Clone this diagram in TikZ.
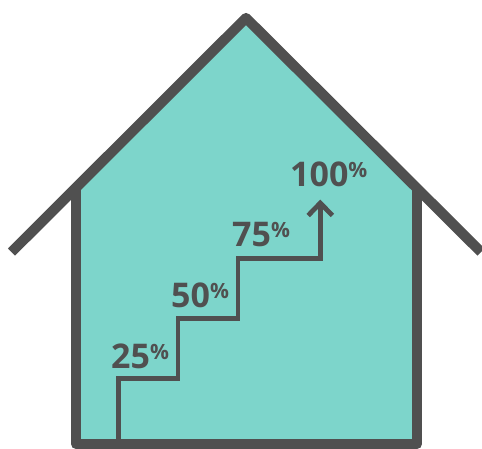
\documentclass[tikz,border=0pt]{standalone}
\usepackage{fontspec}
\setmainfont{Open Sans}
\usepackage{tikz}
\usetikzlibrary{arrows.meta,positioning}
\definecolor{wallgray}{HTML}{505050}
\definecolor{roomteal}{HTML}{7DD5CB}
\newcommand{\pct}[1]{\textbf{#1}\raisebox{9pt}{\fontsize{21}{21}\selectfont\textbf{\%}}}

\begin{document}
\begin{tikzpicture}[
  x=1pt, y=-1pt,
  wall/.style={draw=wallgray, line width=10.2pt, line join=round, line cap=butt},
  stair/.style={draw=wallgray, line width=4.8pt, line join=miter},
  pctlabel/.style={anchor=base west, inner sep=0pt, text=wallgray,
                   font=\fontsize{34}{34}\selectfont}
]
\useasboundingbox (0,0) rectangle (482,448);

\coordinate (apex)   at (246,18);
\coordinate (eaveL)  at (76,187.5);
\coordinate (eaveR)  at (417,187.5);
\coordinate (floorL) at (76,444);
\coordinate (floorR) at (417,444);
\coordinate (roofL)  at (11.5,252);
\coordinate (roofR)  at (481,252);

\fill[roomteal] (eaveL) -- (apex) -- (eaveR) -- (floorR) -- (floorL) -- cycle;
\draw[wall] (eaveL) -- (floorL) -- (floorR) -- (eaveR);
\draw[wall] (roofL) -- (apex) -- (roofR);

\coordinate (s0) at (118.3,441);
\coordinate (s1) at (118.3,378.4);
\coordinate (s2) at (178,378.4);
\coordinate (s3) at (178,318.4);
\coordinate (s4) at (238,318.4);
\coordinate (s5) at (238,258.4);
\coordinate (s6) at (320.3,258.4);
\coordinate (tip) at (320.3,203);
\coordinate (wingL) at (308.2,215.5);
\coordinate (wingR) at (332.4,215.5);

\draw[stair] (s0) -- (s1) -- (s2) -- (s3) -- (s4) -- (s5) -- (s6) -- (tip);
\draw[stair] (wingL) -- (tip) -- (wingR);

\node (p25)  [pctlabel] at (111,368)   {\pct{25}};
\node (p50)  [pctlabel] at (171,307.5) {\pct{50}};
\node (p75)  [pctlabel] at (232,246.8) {\pct{75}};
\node (p100) [pctlabel] at (290,186.8) {\pct{100}};
\end{tikzpicture}
\end{document}
